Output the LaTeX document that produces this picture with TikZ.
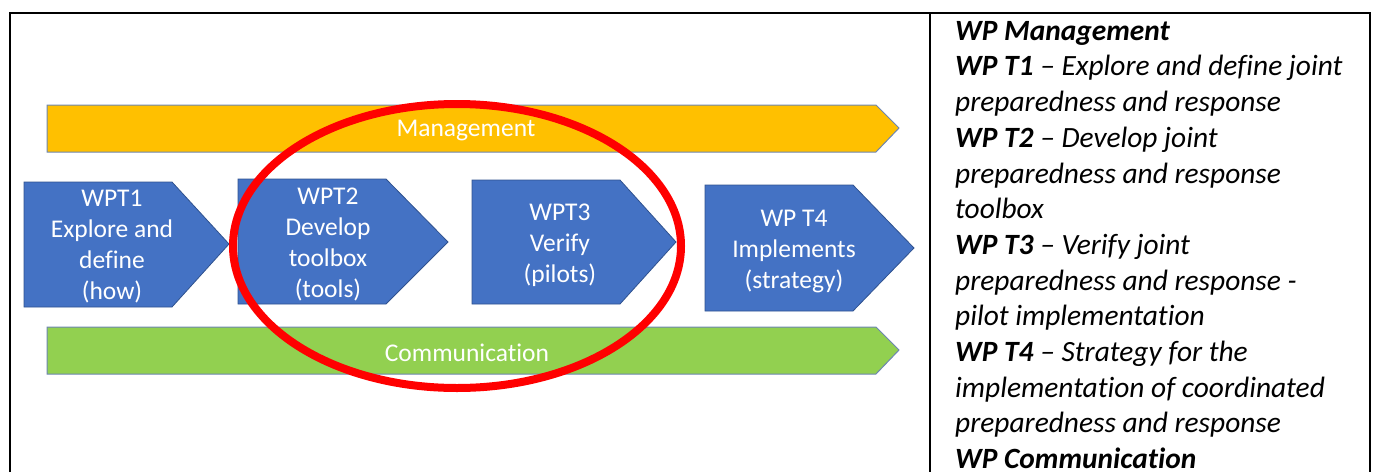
\documentclass[tikz,border=0pt]{standalone}
\usepackage{fontspec}
\setmainfont{Carlito}[Ligatures=CommonOff]
\definecolor{wpBlue}{HTML}{4472C4}
\definecolor{wpEdge}{HTML}{2F528F}
\definecolor{wpGold}{HTML}{FFC000}
\definecolor{wpGreen}{HTML}{92D050}
\definecolor{wpRed}{HTML}{FF0000}
\tikzset{
  wp frame/.style={draw=black, line width=2.5pt},
  wp step/.style={fill=wpBlue, draw=wpEdge, line width=0.8pt},
  wp bar/.style={draw=wpEdge!70, line width=1pt},
  wp text/.style={text=white, font=\fontsize{25.5}{31}\selectfont, align=center},
  wp list/.style={anchor=north west, inner sep=0pt, align=left, font=\fontsize{29.4}{35.7}\selectfont\itshape},
  wp ring/.style={draw=wpRed, line width=8pt},
}

\begin{document}
\begin{tikzpicture}[x=1pt, y=-1pt]
  \useasboundingbox (0,0) rectangle (1377,472);
  % table frame
  \draw[wp frame] (10,472) -- (10,13) -- (1370,13) -- (1370,472);
  \draw[wp frame, line width=2pt] (930,13) -- (930,472);

  % management and communication bars
  \draw[wp bar, fill=wpGold] (47,105) -- (876,105) -- (899,128) -- (876,152) -- (47,152) -- cycle;
  \node[wp text] (mgmt) at (466,131) {Management};
  \draw[wp bar, fill=wpGreen] (47,327) -- (876,327) -- (899,350) -- (876,374) -- (47,374) -- cycle;
  \node[wp text] (comm) at (467,353) {Communication};

  % work package steps
  \draw[wp step] (24,182) -- (172,182) -- (229,244) -- (172,307) -- (24,307) -- cycle;
  \node[wp text] (wpt1) at (112,247) {WPT1\\Explore and\\define\\(how)};
  \draw[wp step] (238,179) -- (386,179) -- (448,242) -- (386,304) -- (238,304) -- cycle;
  \node[wp text] (wpt2) at (328,244) {WPT2\\Develop\\toolbox\\(tools)};
  \draw[wp step] (472,180) -- (620,180) -- (676,242) -- (620,304) -- (472,304) -- cycle;
  \node[wp text] (wpt3) at (560,245) {WPT3\\Verify\\(pilots)};
  \draw[wp step] (705,185) -- (853,185) -- (914,248) -- (853,311) -- (705,311) -- cycle;
  \node[wp text] (wpt4) at (794,251) {WP T4\\Implements\\(strategy)};

  % highlight round T2 and T3
  \draw[wp ring] (457,246) ellipse [x radius=224, y radius=142];

  % descriptions
  \node[wp list] (list) at (955,21) {{\bfseries WP Management}\\
    {\bfseries WP T1} – Explore and define joint\\
    preparedness and response\\
    {\bfseries WP T2} – Develop joint\\
    preparedness and response\\
    toolbox\\
    {\bfseries WP T3} – Verify joint\\
    preparedness and response -\\
    pilot implementation\\
    {\bfseries WP T4} – Strategy for the\\
    implementation of coordinated\\
    preparedness and response\\
    {\bfseries WP Communication}};
\end{tikzpicture}
\end{document}
